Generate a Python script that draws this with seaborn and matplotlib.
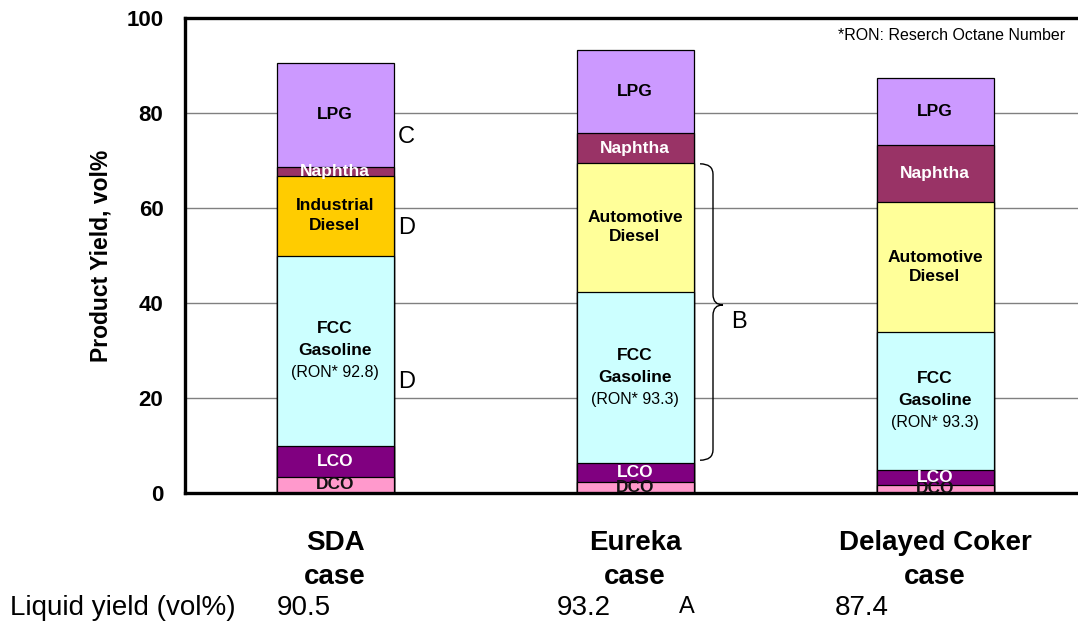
import numpy as np
import pandas as pd
import matplotlib
matplotlib.use("Agg")
import matplotlib.pyplot as plt
import seaborn as sns
from matplotlib.path import Path
from matplotlib.patches import PathPatch
from matplotlib.transforms import blended_transform_factory

# ---------------- data ----------------
cases = ["SDA", "Eureka", "Delayed Coker"]
case_line1 = ["SDA", "Eureka", "Delayed Coker"]
case_line2 = ["case", "case", "case"]
dco = [3.4, 2.4, 1.7]
lco = [6.6, 4.0, 3.1]
fcc = [40.0, 36.0, 29.2]
diesel = [16.8, 27.1, 27.2]
naphtha = [1.9, 6.2, 12.1]
lpg = [21.8, 17.5, 14.1]
diesel_names = ["Industrial\nDiesel", "Automotive\nDiesel", "Automotive\nDiesel"]
ron = ["92.8", "93.3", "93.3"]
liquid_yield = ["90.5", "93.2", "87.4"]
yticks = [0, 20, 40, 60, 80, 100]

# ---------------- style ----------------
sns.set_theme(style="white")
plt.rcParams["font.family"] = ["Liberation Sans", "DejaVu Sans"]
plt.rcParams["text.color"] = "black"
plt.rcParams["axes.labelcolor"] = "black"
plt.rcParams["xtick.color"] = "black"
plt.rcParams["ytick.color"] = "black"

col_dco = "#FF99CC"
col_lco = "#800080"
col_fcc = "#CCFFFF"
col_ind = "#FFCC00"
col_auto = "#FFFF99"
col_nap = "#993366"
col_lpg = "#CC99FF"

layers = [dco, lco, fcc, diesel, naphtha, lpg]
layer_colors = [
    [col_dco] * 3,
    [col_lco] * 3,
    [col_fcc] * 3,
    [col_ind, col_auto, col_auto],
    [col_nap] * 3,
    [col_lpg] * 3,
]
vals = np.array(layers)
cum = np.cumsum(vals, axis=0)

fig = plt.figure(figsize=(10.78, 6.23), dpi=100)
ax = fig.add_axes([185 / 1078, 130 / 623, 900 / 1078, 475 / 623])

# draw stacked bars as overlapping cumulative bars (top layer first)
for k in reversed(range(len(layers))):
    df = pd.DataFrame({"case": cases, "cum": cum[k]})
    sns.barplot(data=df, x="case", y="cum", hue="case", order=cases,
                hue_order=cases, palette=layer_colors[k], width=0.39,
                saturation=1, edgecolor="black", linewidth=0.9,
                errorbar=None, legend=False, ax=ax, zorder=2)

ax.set_xlim(-0.5, 2.5)
ax.set_ylim(0, 100)
ax.set_yticks(yticks)
ax.set_yticklabels([str(t) for t in yticks], fontsize=16, fontweight="bold",
                   color="black")
ax.tick_params(axis="y", length=0, pad=15.5, colors="black")
ax.set_xticks([0.5, 1.5])
ax.set_xticklabels([])
ax.tick_params(axis="x", direction="in", length=7, width=1.6, color="black")
ax.set_xlabel("")
ax.set_ylabel("Product Yield, vol%", fontsize=16.5, fontweight="bold", color="black")
ax.yaxis.set_label_coords(-0.081, 0.5)

ax.yaxis.grid(True, color="#808080", linewidth=1)
ax.xaxis.grid(False)
ax.set_axisbelow(True)
for side in ["left", "bottom", "top"]:
    ax.spines[side].set_visible(True)
    ax.spines[side].set_color("black")
    ax.spines[side].set_linewidth(2.4)
ax.spines["right"].set_visible(False)

# ---------------- segment labels ----------------
mids = cum - vals / 2
lab_fs = 12.5
for i in range(3):
    ax.text(i, mids[0, i], "DCO", ha="center", va="center", fontsize=lab_fs,
            fontweight="bold", color="#111111", zorder=5)
    ax.text(i, mids[1, i], "LCO", ha="center", va="center", fontsize=lab_fs,
            fontweight="bold", color="white", zorder=5)
    ax.annotate("FCC", (i, mids[2, i]), xytext=(0, 22), textcoords="offset pixels",
                ha="center", va="center", fontsize=lab_fs, fontweight="bold",
                color="black", zorder=5)
    ax.annotate("Gasoline", (i, mids[2, i]), xytext=(0, 0), textcoords="offset pixels",
                ha="center", va="center", fontsize=lab_fs, fontweight="bold",
                color="black", zorder=5)
    ax.annotate(f"(RON* {ron[i]})", (i, mids[2, i]), xytext=(0, -22),
                textcoords="offset pixels", ha="center", va="center",
                fontsize=11.5, color="black", zorder=5)
    ax.text(i, mids[3, i], diesel_names[i], ha="center", va="center",
            fontsize=lab_fs, fontweight="bold", linespacing=1.35, color="black",
            zorder=5)
    ax.text(i, mids[4, i], "Naphtha", ha="center", va="center", fontsize=lab_fs,
            fontweight="bold", color="white", zorder=5)
    ax.text(i, mids[5, i], "LPG", ha="center", va="center", fontsize=lab_fs,
            fontweight="bold", color="black", zorder=5)

# ---------------- letters & brace ----------------
ax.text(0.21, 75, "C", ha="left", va="center", fontsize=17, color="black", zorder=5)
ax.text(0.21, 55.8, "D", ha="left", va="center", fontsize=17, color="black", zorder=5)
ax.text(0.21, 23.4, "D", ha="left", va="center", fontsize=17, color="black", zorder=5)
ax.text(1.32, 36.0, "B", ha="left", va="center", fontsize=17, color="black", zorder=5)

x_left, x_line, x_tip = 1.2167, 1.26, 1.2933
y_top, y_bot, y_mid, r = 69.3, 6.9, 39.6, 2.2
verts = [
    (x_left, y_top), (x_line, y_top), (x_line, y_top - r),
    (x_line, y_mid + r),
    (x_line, y_mid), (x_tip, y_mid),
    (x_line, y_mid), (x_line, y_mid - r),
    (x_line, y_bot + r),
    (x_line, y_bot), (x_left, y_bot),
]
codes = [Path.MOVETO, Path.CURVE3, Path.CURVE3, Path.LINETO,
         Path.CURVE3, Path.CURVE3, Path.CURVE3, Path.CURVE3,
         Path.LINETO, Path.CURVE3, Path.CURVE3]
ax.add_patch(PathPatch(Path(verts, codes), facecolor="none", edgecolor="black",
                       linewidth=1.0, zorder=5, clip_on=False))

# ---------------- category labels ----------------
trans = blended_transform_factory(ax.transData, ax.transAxes)
for i in range(3):
    ax.text(i, -0.12, case_line1[i], transform=trans, ha="center", va="baseline",
            fontsize=20, fontweight="bold", color="black", clip_on=False)
    ax.text(i, -0.1916, case_line2[i], transform=trans, ha="center", va="baseline",
            fontsize=20, fontweight="bold", color="black", clip_on=False)

# ---------------- bottom row & note ----------------
fig.text(10 / 1078, (623 - 615) / 623, "Liquid yield (vol%)", fontsize=20,
         ha="left", va="baseline", color="black")
for xpx, v in zip([277, 557, 835], liquid_yield):
    fig.text(xpx / 1078, (623 - 615) / 623, v, fontsize=20, ha="left",
             va="baseline", color="black")
fig.text(679 / 1078, (623 - 613) / 623, "A", fontsize=17, ha="left",
         va="baseline", color="black")
fig.text(838 / 1078, 1 - 35 / 623, "*RON: Reserch Octane Number", fontsize=11.5,
         ha="left", va="center", color="black")

fig.savefig("out.png", dpi=100)
